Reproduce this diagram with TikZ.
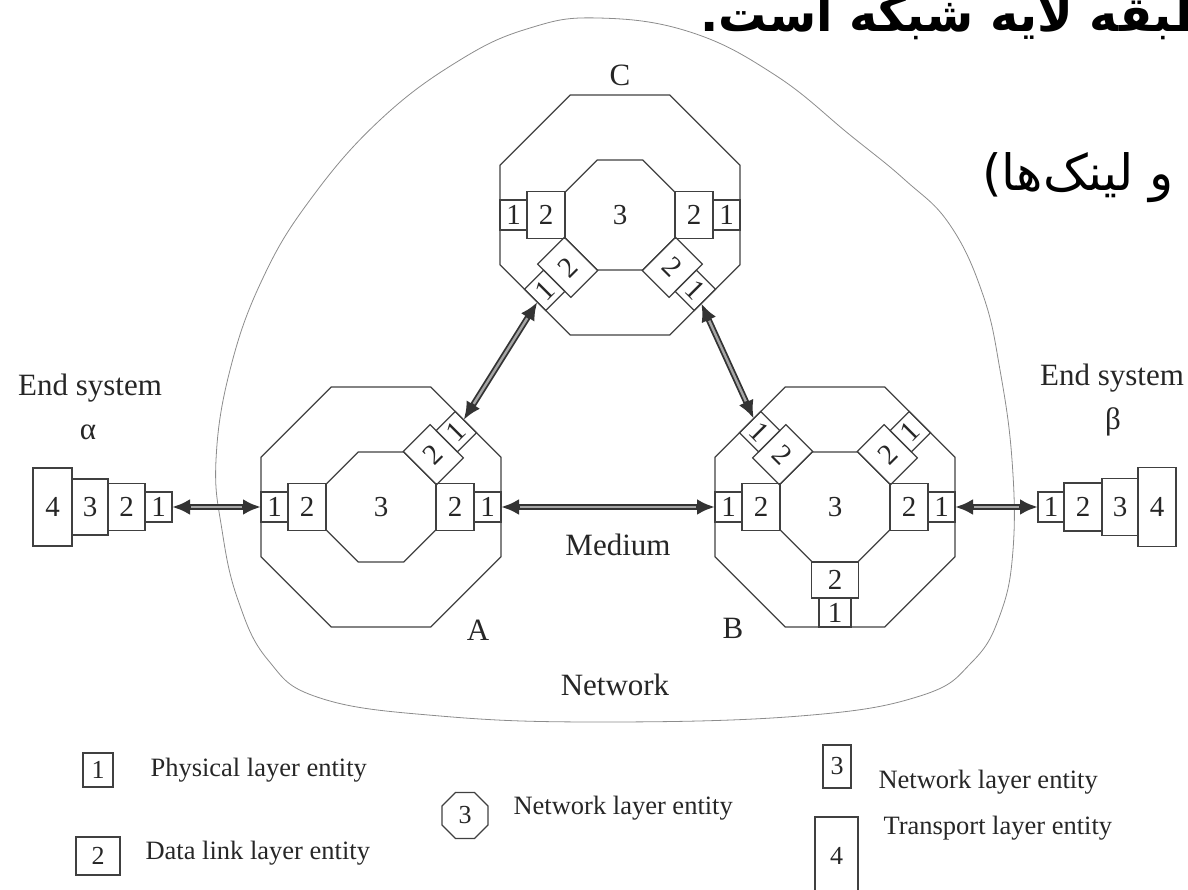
\documentclass[tikz,border=0pt]{standalone}
\usepackage{fontspec}
\setmainfont{Liberation Serif}
\newfontfamily\fafont[Script=Arabic]{DejaVu Sans}
\TeXXeTstate=1
\usetikzlibrary{shapes.geometric,arrows.meta,calc,positioning}

\begin{document}
\begin{tikzpicture}[x=1pt, y=1pt,
    ln/.style={black!75, line width=1.2pt},
    box/.style={ln, draw, rectangle, inner sep=0pt, outer sep=0pt, text=black!85, font=\fontsize{29}{29}\selectfont},
    ph/.style={box, minimum width=27pt, minimum height=30pt},
    dl/.style={box, minimum width=38pt, minimum height=47pt},
    oct/.style={ln, draw, regular polygon, regular polygon sides=8, inner sep=0pt, outer sep=0pt, text=black!85, font=\fontsize{29}{29}\selectfont},
    lbl/.style={text=black!85, font=\fontsize{31}{31}\selectfont},
    key/.style={anchor=west, text=black!85, font=\fontsize{26.5}{26.5}\selectfont},
    keybox/.style={box, font=\fontsize{26}{26}\selectfont},
    link/.style={{Latex[length=18pt,width=16pt]}-{Latex[length=18pt,width=16pt]}, black!80, line width=6pt,
        postaction={draw, black!35, line width=2.4pt, arrows=-, shorten <=19pt, shorten >=19pt}}]

    \clip (0,0) rectangle (1188,889);

    % network cloud
    \draw[black!45, line width=0.8pt] plot[smooth cycle, tension=0.7] coordinates {
      (598,871) (690,857) (775,814) (850,754) (905,709) (950,664) (983,594) (1000,519)
      (1012,429) (1013,339) (1000,274) (972,227) (920,193) (800,173) (600,167) (440,173)
      (320,191) (268,229) (238,289) (222,359) (216,429) (230,519) (262,609) (310,689)
      (380,769) (460,829) (530,861)};

    % intermediate systems
    \foreach \r/\x/\y in {A/381/382, B/835/382, C/620/674}{%
      \node[oct, minimum size=259.8pt] (\r) at (\x,\y) {};
      \node[oct, minimum size=119.1pt] (\r-in) at (\x,\y) {3};
    }

    % ports: data link box against the inner octagon, physical box outside it
    \foreach \r/\a/\t in {A/180/0, A/0/0, A/45/45, B/180/0, B/0/0, B/135/-45, B/45/45,
                          C/180/0, C/0/0, C/225/45, C/315/-45}{%
      \node[dl, rotate=\t] (\r2-\a) at ($(\r)+(\a:74)$) {2};
      \node[ph, rotate=\t] (\r1-\a) at ($(\r)+(\a:106.5)$) {1};
    }
    \node[box, minimum width=47pt, minimum height=36pt] (B2-270) at (835,309) {2};
    \node[box, minimum width=32pt, minimum height=29pt] (B1-270) at (835,276.5) {1};

    % end systems
    \node[box, minimum width=39pt, minimum height=78pt] (a4) at (52.5,382) {4};
    \node[box, minimum width=36pt, minimum height=56pt, right=0pt of a4] (a3) {3};
    \node[box, minimum width=37pt, minimum height=47pt, right=0pt of a3] (a2) {2};
    \node[ph, right=0pt of a2] (a1) {1};

    \node[box, minimum width=26pt, minimum height=30pt] (b1) at (1051,382) {1};
    \node[box, minimum width=38pt, minimum height=48pt, right=0pt of b1] (b2) {2};
    \node[box, minimum width=36pt, minimum height=57pt, right=0pt of b2] (b3) {3};
    \node[box, minimum width=38pt, minimum height=79pt, right=0pt of b3] (b4) {4};

    \node[lbl] (sys-a) at (90,501) {End system};
    \node[lbl] (alpha) at (88,457) {α};
    \node[lbl] (sys-b) at (1112,511) {End system};
    \node[lbl] (beta) at (1113,467) {β};

    \node[lbl] (lab-A) at (478,259) {A};
    \node[lbl] (lab-B) at (733,261) {B};
    \node[lbl] (lab-C) at (620,814) {C};
    \node[lbl] (medium) at (618,344) {Medium};
    \node[lbl] (network) at (615,204) {Network};

    % links
    \draw[link] (a1) -- (A1-180);
    \draw[link] (A1-0) -- (B1-180);
    \draw[link] (B1-0) -- (b1);
    \draw[link] (A1-45) -- (C1-225);
    \draw[link] (C1-315) -- (B1-135);

    % legend
    \node[keybox, minimum width=30pt, minimum height=34pt] (k1) at (98,119) {1};
    \node[key] (k1-txt) at (147,119) {Physical layer entity};
    \node[keybox, minimum width=44pt, minimum height=38pt] (k2) at (98,33) {2};
    \node[key] (k2-txt) at (142,36) {Data link layer entity};
    \node[oct, minimum size=49.8pt, font=\fontsize{26}{26}\selectfont] (k3) at (465,73.5) {3};
    \node[key] (k3-txt) at (510,81) {Network layer entity};
    \node[keybox, minimum width=28pt, minimum height=43pt] (k3b) at (837,122.5) {3};
    \node[key] (k3b-txt) at (875,107) {Network layer entity};
    \node[keybox, minimum width=43pt, minimum height=78pt] (k4) at (836.5,33) {4};
    \node[key] (k4-txt) at (880,61) {Transport layer entity};

    % slide text
    \node[anchor=base east, font=\fafont\bfseries\fontsize{48}{48}\selectfont] (title) at (1222,857)
      {\beginR طبقه لایه شبکه است.\endR};
    \node[anchor=east, font=\fafont\fontsize{50}{50}\selectfont] (note) at (1177,711)
      {)\beginR و لینک‌ها\endR};
\end{tikzpicture}
\end{document}
